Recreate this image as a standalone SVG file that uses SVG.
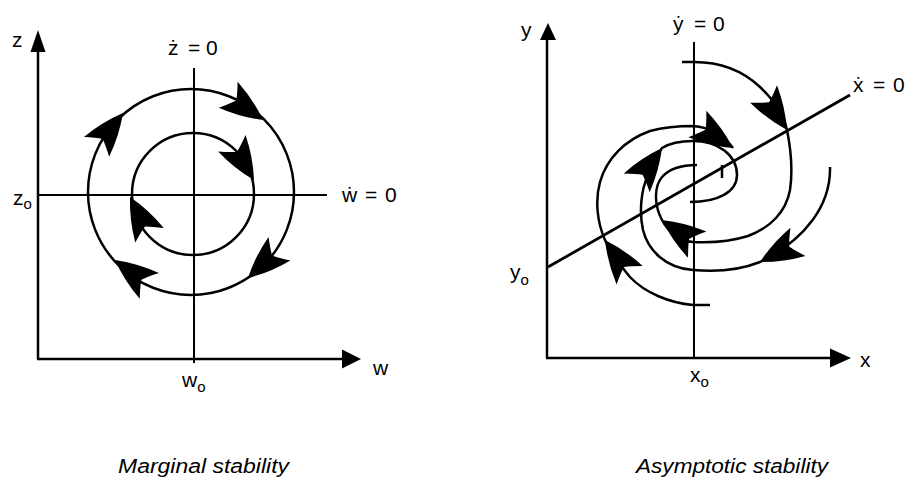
<svg xmlns="http://www.w3.org/2000/svg" width="905" height="477" viewBox="0 0 905 477">
<style>
 .ln{fill:none;stroke:#000;stroke-width:2.5}
 .nl{fill:none;stroke:#000;stroke-width:2}
 .nx{fill:none;stroke:#000;stroke-width:2.8}
 .cv{fill:none;stroke:#000;stroke-width:2.5}
 .ah{fill:#000}
 .lb{font-family:"Liberation Sans",Arial,"DejaVu Sans",sans-serif;font-size:21px;fill:#000}
 .sb{font-size:15px}
 .cap{font-family:"Liberation Sans",Arial,sans-serif;font-size:20px;font-style:italic;fill:#000}
</style>
<defs>
 <path id="barb" d="M0,0 Q-20,-11 -43,-16 Q-36,-6 -33,0 Q-36,6 -43,16 Q-20,11 0,0 Z"/>
</defs>

<g id="marginal">
 <g id="m-axes">
  <line class="ln" x1="38" y1="48" x2="38" y2="359"/>
  <line class="ln" x1="37" y1="359" x2="345" y2="359"/>
  <polygon class="ah" points="38,30 30.5,52 45.5,52"/>
  <polygon class="ah" points="361,359 342,349.5 342,368.5"/>
  <text class="lb" x="12" y="47">z</text>
  <text class="lb" x="373" y="375">w</text>
  <text class="lb" x="13" y="205">z<tspan class="sb" dy="4">o</tspan></text>
  <text class="lb" x="182" y="387">w<tspan class="sb" dy="5">o</tspan></text>
 </g>
 <g id="m-nullclines">
  <line class="nl" x1="38" y1="195" x2="327" y2="195"/>
  <line class="nl" x1="194" y1="68" x2="194" y2="363"/>
  <text class="lb" y="55"><tspan x="168">ż</tspan><tspan x="188">=</tspan><tspan x="206">0</tspan></text>
  <text class="lb" y="202"><tspan x="342">ẇ</tspan><tspan x="365">=</tspan><tspan x="385">0</tspan></text>
 </g>
 <g id="m-orbits">
  <circle class="cv" cx="191" cy="192" r="103"/>
  <circle class="cv" cx="193" cy="194" r="61"/>
  <use href="#barb" class="ah" transform="translate(263,120) rotate(36)"/>
  <use href="#barb" class="ah" transform="translate(123,113) rotate(-52)"/>
  <use href="#barb" class="ah" transform="translate(115,260) rotate(-143)"/>
  <use href="#barb" class="ah" transform="translate(248,278) rotate(137)"/>
  <use href="#barb" class="ah" transform="translate(254,180) rotate(59)"/>
  <use href="#barb" class="ah" transform="translate(130,197) rotate(-117)"/>
 </g>
 <text class="cap" x="118" y="473" textLength="171" lengthAdjust="spacingAndGlyphs">Marginal stability</text>
</g>

<g id="asymptotic">
 <g id="a-axes">
  <line class="ln" x1="547" y1="38" x2="547" y2="358"/>
  <line class="ln" x1="546" y1="358" x2="832" y2="358"/>
  <polygon class="ah" points="548,23 540,40 556,40"/>
  <polygon class="ah" points="851,358 830,348.5 830,367.5"/>
  <text class="lb" x="521" y="37">y</text>
  <text class="lb" x="860" y="367">x</text>
  <text class="lb" x="510" y="279">y<tspan class="sb" dy="6">o</tspan></text>
  <text class="lb" x="690" y="382">x<tspan class="sb" dy="5">o</tspan></text>
 </g>
 <g id="a-nullclines">
  <line class="nl" x1="694" y1="42" x2="694" y2="358"/>
  <line class="nx" x1="548" y1="267" x2="850" y2="95"/>
  <text class="lb" y="31"><tspan x="673">ẏ</tspan><tspan x="694">=</tspan><tspan x="713">0</tspan></text>
  <text class="lb" y="92"><tspan x="853">ẋ</tspan><tspan x="873">=</tspan><tspan x="893">0</tspan></text>
 </g>
 <g id="a-trajectories">
  <path class="cv" d="M682,62 L694,62 C718,62 742,70 760,87 C775,101 784,115 787,130 C791,150 793,170 790,190 C786,212 770,228 748,236 C732,241 712,243 693,242 C680,241 668,232 662,220 C655,207 653,188 662,177 C670,168 682,165 697,165"/>
  <path class="cv" d="M830,167 C831,205 805,240 760,262 C740,270 715,272 693,270 C665,268 648,250 643,230 C639,212 641,190 648,175 C652,165 657,155 662,148 C670,143 682,141 693,141 C718,141 737,155 737,175 C737,192 718,202 690,202"/>
  <path class="cv" d="M710,305 L693,305 C670,303 645,293 630,277 C620,265 610,252 605,240 C597,222 595,200 600,182 C607,158 625,140 650,131 C665,127 680,126 693,126 C710,127 725,137 733,148"/>
  <line class="cv" x1="722" y1="165" x2="722" y2="178"/>
  <use href="#barb" class="ah" transform="translate(787,130) rotate(57)"/>
  <use href="#barb" class="ah" transform="translate(662,220) rotate(-145)"/>
  <use href="#barb" class="ah" transform="translate(760,262) rotate(152)"/>
  <use href="#barb" class="ah" transform="translate(662,148) rotate(-54)"/>
  <use href="#barb" class="ah" transform="translate(605,240) rotate(-125)"/>
  <use href="#barb" class="ah" transform="translate(733,148) rotate(34)"/>
 </g>
 <text class="cap" x="636" y="473" textLength="192" lengthAdjust="spacingAndGlyphs">Asymptotic stability</text>
</g>
</svg>
